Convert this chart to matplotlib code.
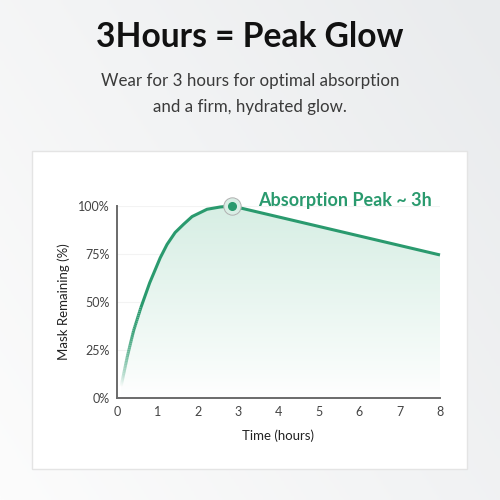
import numpy as np
import matplotlib.pyplot as plt
from matplotlib.patches import Rectangle, Polygon
from matplotlib.collections import LineCollection
from matplotlib.colors import LinearSegmentedColormap

plt.rcParams['font.family'] = ['Lato', 'DejaVu Sans']

# --- data ---
hours = [0.10, 0.16, 0.26, 0.41, 0.59, 0.81, 1.07, 1.24, 1.44, 1.65, 1.86,
         2.23, 2.56, 2.85, 8.0]
remaining = [6.0, 12.0, 22.0, 35.0, 47.0, 60.0, 73.0, 80.0, 86.2, 90.5, 94.5,
             98.3, 99.5, 100, 74.5]
# line opacity at the first points (the curve fades in near the origin)
fade_alpha = [0.0, 0.3, 0.65, 0.9, 1.0]
peak_hour = 2.85
peak_value = 100
x_ticks = [0, 1, 2, 3, 4, 5, 6, 7, 8]
y_ticks = [0, 25, 50, 75, 100]
y_tick_labels = ['0%', '25%', '50%', '75%', '100%']

title = '3Hours = Peak Glow'
subtitle = 'Wear for 3 hours for optimal absorption\nand a firm, hydrated glow.'
peak_label = 'Absorption Peak ~ 3h'
green = '#2a9a6e'

fig = plt.figure(figsize=(5, 5), dpi=100)

# background gradient
bg = fig.add_axes([0, 0, 1, 1])
gx, gy = np.meshgrid(np.linspace(0, 1, 200), np.linspace(0, 1, 200))
bg_cmap = LinearSegmentedColormap.from_list('bg', ['#fcfcfc', '#e9ebed'])
bg.imshow(0.6 * gx + 0.4 * gy, cmap=bg_cmap, extent=[0, 1, 0, 1], origin='lower', aspect='auto')
bg.set_xlim(0, 1)
bg.set_ylim(0, 1)
bg.axis('off')

# white card
bg.add_patch(Rectangle((32 / 500, 1 - 469 / 500), 435 / 500, 318 / 500,
                       facecolor='white', edgecolor='#e4e4e4', linewidth=1, zorder=2))

# headings
fig.text(0.5, 1 - 37 / 500, title, ha='center', va='center', fontsize=24.2,
         fontweight='bold', color='#111111')
fig.text(0.5, 1 - 94 / 500, subtitle, ha='center', va='center', fontsize=12.2,
         color='#3a3a3a', linespacing=1.75)

# chart
ax = fig.add_axes([117 / 500, 1 - 398 / 500, 323 / 500, 192 / 500])
ax.set_xlim(0, 8)
ax.set_ylim(0, 100)
ax.patch.set_alpha(0)

# gradient fill under the curve
fill_cmap = LinearSegmentedColormap.from_list('fill', ['#ffffff', '#d7eee4'])
fy = np.linspace(0, 1, 200).reshape(-1, 1)
img = ax.imshow(fy ** 0.9, cmap=fill_cmap, extent=[0, 8, 0, 100], origin='lower',
                aspect='auto', zorder=1, vmin=0, vmax=1)
poly = Polygon(list(zip(hours, remaining)) + [(hours[-1], 0), (hours[0], 0)],
               closed=True, facecolor='none', edgecolor='none')
ax.add_patch(poly)
img.set_clip_path(poly)

# curve: solid part as one line, fading start split into short pieces
n_fade = len(fade_alpha) - 1
ax.plot(hours[n_fade:], remaining[n_fade:], color=green, lw=2.2,
        solid_joinstyle='round', solid_capstyle='butt', zorder=3, clip_on=False)
segs, cols = [], []
for i in range(n_fade):
    for k in range(12):
        t0, t1 = k / 12, (k + 1) / 12
        p0 = (hours[i] + t0 * (hours[i + 1] - hours[i]),
              remaining[i] + t0 * (remaining[i + 1] - remaining[i]))
        p1 = (hours[i] + t1 * (hours[i + 1] - hours[i]),
              remaining[i] + t1 * (remaining[i + 1] - remaining[i]))
        a = fade_alpha[i] + (t0 + t1) / 2 * (fade_alpha[i + 1] - fade_alpha[i])
        segs.append([p0, p1])
        cols.append((42 / 255, 154 / 255, 110 / 255, a))
lc = LineCollection(segs, colors=cols, linewidths=2.2, capstyle='butt', zorder=3)
ax.add_collection(lc)

# peak marker
ax.plot(peak_hour, peak_value, 'o', ms=12.5, mfc='#d9eee5', mec='none',
        zorder=4, clip_on=False)
ax.plot(peak_hour, peak_value, 'o', ms=12.5, mfc='none', mec='#b0b0b0', mew=0.7,
        zorder=4, clip_on=False)
ax.plot(peak_hour, peak_value, 'o', ms=5.5, color=green, zorder=5, clip_on=False)
ax.text(3.5, 103, peak_label, ha='left', va='center', fontsize=13, fontweight='bold',
        color=green)

# grid, spines, ticks
for yv in y_ticks[1:]:
    ax.axhline(yv, color='#f3f3f3', lw=0.8, zorder=0)
for s in ['top', 'right']:
    ax.spines[s].set_visible(False)
for s in ['left', 'bottom']:
    ax.spines[s].set_color('#6a6a6a')
    ax.spines[s].set_linewidth(1.4)
ax.set_xticks(x_ticks)
ax.set_yticks(y_ticks)
ax.set_yticklabels(y_tick_labels)
ax.tick_params(axis='both', length=0, labelsize=9, colors='#444444', pad=6)
ax.tick_params(axis='y', pad=5)
ax.set_xlabel('Time (hours)', fontsize=9.5, color='#222222', labelpad=8)
ax.set_ylabel('Mask Remaining (%)', fontsize=9.5, color='#222222', labelpad=6)

fig.savefig('out.png', dpi=100)
